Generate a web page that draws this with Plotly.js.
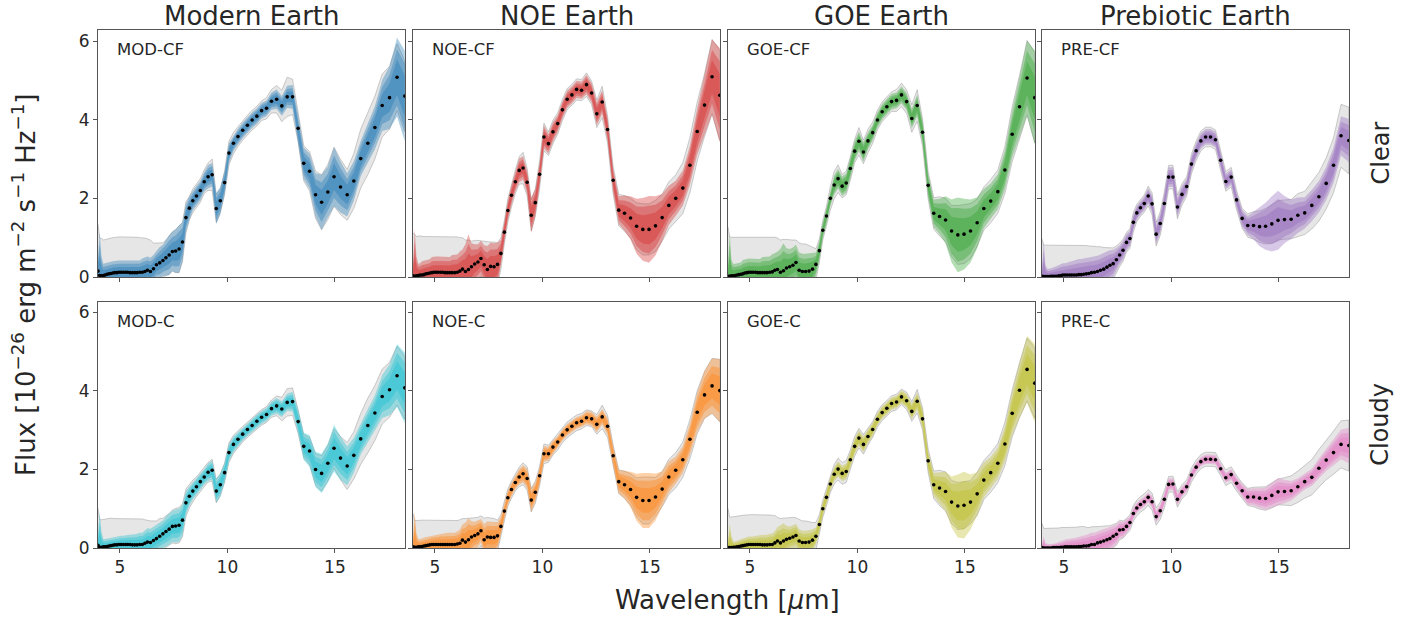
<!DOCTYPE html>
<html>
<head>
<meta charset="utf-8">
<script src="https://cdn.plot.ly/plotly-3.0.1.min.js"></script>
<style>html,body{margin:0;padding:0;background:#fff;}#chart{width:1414px;height:619px;}</style>
</head>
<body>
<div id="chart"></div>
<script>
// Wavelength grid [micron]
const lam = [3.98,4.06,4.14,4.23,4.31,4.40,4.49,4.58,4.67,4.76,4.86,4.95,5.05,5.15,5.26,5.36,5.47,5.58,5.69,5.80,5.92,6.04,6.16,
 6.28,6.42,6.56,6.70,6.85,7.00,7.14,7.29,7.44,7.59,7.75,7.91,8.07,8.23,8.39,8.56,8.74,8.92,9.10,9.29,9.48,9.67,9.87,
 10.07,10.28,10.49,10.71,10.93,11.15,11.37,11.59,11.82,12.05,12.29,12.53,12.78,13.03,13.29,13.55,13.82,14.10,14.38,14.67,14.96,15.26,15.57,15.88,16.20,16.53,16.86,17.20,17.54,17.89,18.25];

const columnTitles = ['Modern Earth','NOE Earth','GOE Earth','Prebiotic Earth'];
const rowTitles = ['Clear','Cloudy'];
const panelLabels = ['MOD-CF','NOE-CF','GOE-CF','PRE-CF','MOD-C','NOE-C','GOE-C','PRE-C'];
const panelColors = ['#1f77b4','#d62728','#2ca02c','#9467bd','#17becf','#ff7f0e','#bcbd22','#e377c2'];
const waveTicks = [5,10,15];
const fluxTicks = [0,2,4,6];
// relative widths of the three nested coloured bands (outer, middle, inner)
const bandLevels = [1.0, 0.72, 0.45];

// ---- MOD-CF ----
const modCF = [0.15,0.04,0.03,0.04,0.05,0.07,0.08,0.09,0.10,0.11,0.11,0.12,0.12,0.12,0.12,0.12,0.11,0.11,0.11,0.11,0.12,0.12,0.14,
 0.17,0.14,0.21,0.31,0.36,0.42,0.49,0.56,0.65,0.66,0.71,0.89,1.51,1.75,1.94,2.06,2.20,2.42,2.55,2.60,1.74,1.94,2.40,
 3.15,3.40,3.57,3.73,3.86,3.99,4.09,4.23,4.29,4.47,4.52,4.35,4.58,4.58,3.78,2.89,2.69,2.09,1.90,2.16,2.55,2.29,2.09,2.44,3.01,3.40,3.80,4.36,4.56,5.08,4.60];
const modCFSpread = [0.35,1.1,0.5,0.3,0.3,0.3,0.3,0.3,0.3,0.3,0.3,0.3,0.3,0.3,0.3,0.3,0.3,0.3,0.3,0.3,0.3,0.35,0.35,
 0.35,0.35,0.35,0.35,0.4,0.4,0.45,0.5,0.5,0.55,0.6,0.5,0.35,0.3,0.25,0.25,0.25,0.25,0.3,0.3,0.4,0.35,0.3,
 0.25,0.2,0.2,0.2,0.2,0.2,0.2,0.2,0.2,0.22,0.25,0.25,0.28,0.3,0.35,0.4,0.45,0.55,0.7,0.65,0.75,0.65,0.55,0.5,0.45,0.5,0.55,0.65,0.8,1.0,1.15];
const modCFGray = [1.2,0.95,0.95,0.9,0.9,0.9,0.9,0.9,0.9,0.9,0.9,0.9,0.9,0.9,0.9,0.9,0.9,0.9,0.9,0.9,0.88,0.88,0.85,
 0.8,0.8,0.65,0.55,0.5,0.45,0.45,0.5,0.5,0.55,0.6,0.5,0.4,0.3,0.3,0.3,0.3,0.3,0.35,0.4,0.35,0.3,0.3,
 0.3,0.27,0.25,0.25,0.25,0.25,0.25,0.25,0.27,0.3,0.35,0.4,0.5,0.45,0.35,0.45,0.5,0.6,0.7,0.7,0.75,0.7,0.65,0.7,0.75,0.8,0.8,0.8,0.8,0.85,0.9];

// ---- NOE-CF ----
const noeCF = [0.03,0.02,0.03,0.04,0.05,0.05,0.06,0.08,0.09,0.10,0.11,0.12,0.12,0.12,0.12,0.12,0.11,0.11,0.11,0.11,0.11,0.12,0.15,
 0.20,0.14,0.19,0.26,0.33,0.38,0.47,0.31,0.19,0.27,0.26,0.32,0.60,1.14,1.69,2.08,2.42,2.71,2.77,2.41,1.57,1.89,2.61,
 3.56,3.39,3.69,3.90,4.25,4.52,4.63,4.77,4.75,4.89,4.68,4.15,4.45,3.75,2.46,1.70,1.62,1.50,1.29,1.21,1.21,1.30,1.51,1.82,2.00,2.26,2.84,3.70,4.37,5.09,4.62];
const noeCFSpread = [0.3,1.2,0.5,0.3,0.3,0.35,0.35,0.35,0.35,0.35,0.4,0.4,0.4,0.4,0.4,0.4,0.4,0.4,0.4,0.45,0.45,0.45,0.5,
 0.5,0.7,0.9,0.6,0.5,0.45,0.45,0.5,0.6,0.6,0.6,0.55,0.35,0.25,0.25,0.25,0.25,0.3,0.3,0.3,0.45,0.35,0.3,
 0.3,0.25,0.25,0.22,0.22,0.22,0.22,0.22,0.22,0.25,0.25,0.3,0.3,0.3,0.3,0.35,0.45,0.55,0.7,0.8,0.85,0.75,0.6,0.5,0.45,0.45,0.5,0.6,0.75,0.95,1.2];
const noeCFGray = [1.1,1.05,1.0,1.0,1.0,0.98,0.97,0.95,0.94,0.93,0.92,0.91,0.91,0.91,0.91,0.91,0.92,0.92,0.92,0.92,0.92,0.9,0.85,
 0.8,0.8,0.75,0.65,0.6,0.55,0.45,0.6,0.7,0.62,0.63,0.55,0.4,0.3,0.3,0.3,0.3,0.35,0.4,0.35,0.4,0.35,0.35,
 0.35,0.3,0.3,0.27,0.27,0.27,0.27,0.27,0.27,0.3,0.3,0.35,0.4,0.35,0.35,0.4,0.45,0.5,0.6,0.65,0.65,0.65,0.6,0.6,0.6,0.65,0.7,0.75,0.8,0.95,1.15];

// ---- GOE-CF ----
const goeCF = [0.02,0.02,0.03,0.03,0.04,0.05,0.06,0.07,0.08,0.10,0.11,0.12,0.12,0.12,0.12,0.11,0.11,0.11,0.11,0.11,0.12,0.13,0.17,
 0.19,0.12,0.16,0.23,0.26,0.30,0.37,0.17,0.14,0.14,0.15,0.20,0.32,0.67,1.19,1.55,2.00,2.34,2.50,2.31,2.39,2.76,3.20,
 3.45,3.18,3.46,3.67,3.99,4.20,4.33,4.46,4.49,4.63,4.46,4.03,4.36,3.68,2.33,1.62,1.54,1.45,1.17,1.07,1.09,1.17,1.38,1.74,1.93,2.17,2.72,3.63,4.33,5.06,4.56];
const goeCFSpread = [0.3,1.1,0.4,0.3,0.3,0.3,0.3,0.3,0.35,0.35,0.35,0.35,0.35,0.35,0.35,0.35,0.35,0.4,0.4,0.4,0.4,0.45,0.45,
 0.45,0.6,0.7,0.5,0.45,0.45,0.45,0.45,0.45,0.45,0.45,0.4,0.3,0.25,0.2,0.2,0.2,0.25,0.25,0.25,0.25,0.25,0.25,
 0.25,0.25,0.22,0.2,0.2,0.2,0.2,0.2,0.2,0.22,0.22,0.25,0.28,0.3,0.3,0.35,0.45,0.6,0.8,0.95,0.9,0.8,0.65,0.5,0.45,0.45,0.5,0.6,0.75,0.95,1.2];
const goeCFGray = [1.25,1.0,0.98,0.97,0.97,0.96,0.95,0.94,0.93,0.92,0.91,0.9,0.9,0.9,0.9,0.91,0.91,0.91,0.91,0.91,0.9,0.88,0.84,
 0.8,0.82,0.8,0.72,0.68,0.64,0.57,0.7,0.7,0.7,0.65,0.55,0.4,0.3,0.25,0.25,0.3,0.35,0.35,0.3,0.3,0.3,0.3,
 0.35,0.3,0.3,0.27,0.25,0.25,0.25,0.25,0.28,0.3,0.3,0.35,0.4,0.35,0.35,0.4,0.5,0.55,0.65,0.75,0.75,0.7,0.6,0.55,0.55,0.55,0.6,0.7,0.8,0.95,1.15];

// ---- PRE-CF ----
const preCF = [0.02,0.01,0.01,0.01,0.01,0.02,0.02,0.02,0.02,0.03,0.04,0.05,0.05,0.05,0.05,0.05,0.05,0.05,0.06,0.06,0.07,0.08,0.09,
 0.11,0.12,0.14,0.17,0.20,0.25,0.30,0.34,0.44,0.56,0.68,0.88,0.98,1.39,1.63,1.76,1.87,2.06,1.86,1.09,1.36,1.87,2.54,
 2.54,1.78,2.10,2.30,2.87,3.21,3.46,3.56,3.56,3.49,2.97,2.43,2.54,1.96,1.49,1.31,1.31,1.28,1.29,1.35,1.44,1.46,1.47,1.57,1.63,1.82,2.04,2.38,2.84,3.59,3.47];
const preCFSpread = [0.2,0.9,0.3,0.2,0.2,0.2,0.22,0.24,0.26,0.28,0.3,0.3,0.3,0.32,0.34,0.36,0.38,0.4,0.4,0.4,0.4,0.4,0.4,
 0.4,0.4,0.4,0.4,0.4,0.4,0.38,0.35,0.3,0.25,0.25,0.22,0.2,0.2,0.18,0.18,0.18,0.2,0.22,0.25,0.25,0.25,0.25,
 0.25,0.25,0.22,0.2,0.2,0.2,0.2,0.2,0.2,0.2,0.2,0.2,0.2,0.2,0.22,0.25,0.35,0.5,0.6,0.7,0.75,0.6,0.5,0.45,0.4,0.4,0.4,0.42,0.45,0.5,0.55];
const preCFGray = [0.95,0.8,0.8,0.8,0.8,0.78,0.78,0.78,0.78,0.77,0.76,0.75,0.75,0.75,0.75,0.75,0.75,0.75,0.74,0.74,0.73,0.72,0.7,
 0.68,0.66,0.63,0.6,0.55,0.5,0.45,0.4,0.35,0.3,0.28,0.25,0.25,0.25,0.22,0.22,0.22,0.25,0.28,0.3,0.3,0.3,0.3,
 0.3,0.3,0.27,0.25,0.25,0.25,0.25,0.25,0.25,0.25,0.25,0.25,0.25,0.25,0.25,0.3,0.35,0.4,0.45,0.5,0.5,0.5,0.5,0.55,0.55,0.6,0.62,0.65,0.7,0.8,0.85];

// ---- MOD-C ----
const modC = [0.07,0.02,0.02,0.03,0.03,0.04,0.05,0.06,0.07,0.08,0.08,0.09,0.09,0.09,0.09,0.09,0.09,0.08,0.08,0.08,0.09,0.09,0.12,
 0.15,0.14,0.19,0.24,0.30,0.36,0.42,0.48,0.55,0.56,0.58,0.71,1.15,1.32,1.45,1.56,1.69,1.81,1.93,1.98,1.45,1.61,1.92,
 2.43,2.64,2.77,2.90,3.02,3.12,3.23,3.33,3.40,3.55,3.62,3.54,3.71,3.73,3.22,2.59,2.47,2.00,1.90,2.16,2.54,2.29,2.09,2.36,2.78,3.12,3.44,3.86,4.03,4.39,4.08];
const modCSpread = [0.3,0.9,0.4,0.2,0.2,0.2,0.2,0.2,0.2,0.2,0.22,0.22,0.22,0.22,0.24,0.24,0.25,0.26,0.27,0.28,0.3,0.3,0.32,
 0.35,0.35,0.35,0.35,0.35,0.35,0.38,0.4,0.4,0.42,0.42,0.4,0.3,0.25,0.22,0.2,0.2,0.2,0.22,0.25,0.3,0.3,0.25,
 0.22,0.2,0.18,0.17,0.17,0.17,0.17,0.17,0.17,0.18,0.2,0.2,0.22,0.25,0.3,0.35,0.4,0.45,0.5,0.5,0.6,0.55,0.5,0.45,0.4,0.42,0.45,0.55,0.65,0.8,0.9];
const modCGray = [0.95,0.7,0.7,0.7,0.7,0.7,0.7,0.7,0.68,0.67,0.67,0.66,0.66,0.66,0.66,0.66,0.66,0.66,0.66,0.66,0.65,0.65,0.6,
 0.55,0.55,0.5,0.45,0.45,0.4,0.4,0.4,0.42,0.45,0.45,0.42,0.35,0.3,0.28,0.25,0.25,0.25,0.25,0.28,0.3,0.28,0.25,
 0.25,0.23,0.22,0.2,0.2,0.2,0.2,0.2,0.2,0.22,0.25,0.3,0.35,0.35,0.3,0.3,0.35,0.4,0.45,0.45,0.5,0.55,0.6,0.6,0.65,0.7,0.7,0.7,0.7,0.75,0.8];

// ---- NOE-C ----
const noeC = [0.03,0.02,0.02,0.03,0.03,0.04,0.05,0.06,0.07,0.08,0.09,0.09,0.09,0.09,0.09,0.09,0.09,0.09,0.09,0.09,0.09,0.10,0.12,
 0.20,0.15,0.21,0.28,0.32,0.36,0.44,0.21,0.28,0.27,0.27,0.31,0.55,0.94,1.28,1.49,1.67,1.81,1.89,1.77,1.22,1.42,1.84,
 2.40,2.40,2.57,2.70,2.88,3.01,3.10,3.19,3.23,3.32,3.29,3.15,3.34,3.10,2.35,1.69,1.61,1.49,1.29,1.21,1.21,1.30,1.50,1.81,1.98,2.25,2.77,3.46,3.90,4.13,4.01];
const noeCSpread = [0.2,0.9,0.35,0.2,0.2,0.2,0.22,0.22,0.22,0.22,0.24,0.24,0.26,0.26,0.28,0.28,0.3,0.3,0.3,0.3,0.3,0.32,0.35,
 0.4,0.5,0.55,0.4,0.35,0.35,0.3,0.4,0.4,0.4,0.4,0.35,0.25,0.2,0.18,0.18,0.18,0.2,0.22,0.25,0.3,0.25,0.22,
 0.2,0.18,0.17,0.15,0.15,0.15,0.15,0.15,0.15,0.17,0.18,0.2,0.2,0.22,0.25,0.3,0.35,0.45,0.6,0.7,0.7,0.6,0.45,0.4,0.35,0.35,0.4,0.5,0.6,0.7,0.8];
const noeCGray = [0.85,0.68,0.68,0.68,0.67,0.67,0.66,0.65,0.64,0.63,0.62,0.62,0.62,0.62,0.62,0.62,0.62,0.62,0.62,0.62,0.62,0.6,0.6,
 0.55,0.6,0.55,0.48,0.45,0.42,0.38,0.55,0.5,0.5,0.48,0.4,0.3,0.25,0.22,0.22,0.22,0.25,0.28,0.3,0.3,0.28,0.25,
 0.25,0.22,0.2,0.2,0.2,0.2,0.2,0.2,0.2,0.2,0.2,0.25,0.3,0.28,0.28,0.3,0.35,0.4,0.5,0.6,0.6,0.5,0.45,0.45,0.45,0.45,0.5,0.55,0.6,0.7,0.8];

// ---- GOE-C ----
const goeC = [0.01,0.01,0.01,0.02,0.02,0.03,0.04,0.05,0.06,0.07,0.08,0.09,0.09,0.09,0.09,0.09,0.09,0.08,0.08,0.08,0.09,0.09,0.13,
 0.18,0.13,0.18,0.22,0.25,0.28,0.32,0.18,0.14,0.14,0.15,0.20,0.30,0.60,1.00,1.29,1.63,1.88,2.01,1.90,1.95,2.25,2.59,
 2.80,2.64,2.84,3.02,3.28,3.45,3.56,3.68,3.72,3.85,3.75,3.48,3.74,3.29,2.22,1.61,1.53,1.44,1.17,1.07,1.09,1.17,1.38,1.73,1.92,2.16,2.65,3.43,4.02,4.55,4.20];
const goeCSpread = [0.2,0.6,0.3,0.15,0.15,0.15,0.16,0.17,0.18,0.19,0.2,0.2,0.2,0.2,0.22,0.22,0.24,0.25,0.25,0.26,0.27,0.28,0.3,
 0.35,0.45,0.45,0.35,0.3,0.3,0.3,0.3,0.3,0.3,0.3,0.28,0.22,0.2,0.18,0.17,0.17,0.18,0.2,0.2,0.2,0.2,0.2,
 0.2,0.2,0.18,0.17,0.16,0.16,0.16,0.16,0.16,0.17,0.18,0.2,0.22,0.25,0.25,0.3,0.4,0.5,0.65,0.8,0.85,0.7,0.55,0.45,0.4,0.4,0.45,0.55,0.7,0.85,1.0];
const goeCGray = [1.0,0.78,0.78,0.78,0.78,0.78,0.78,0.78,0.77,0.77,0.76,0.76,0.76,0.76,0.76,0.76,0.76,0.76,0.76,0.76,0.75,0.74,0.7,
 0.6,0.62,0.58,0.55,0.52,0.5,0.45,0.55,0.55,0.55,0.52,0.45,0.35,0.25,0.22,0.22,0.22,0.25,0.28,0.28,0.28,0.25,0.25,
 0.25,0.25,0.22,0.2,0.2,0.2,0.2,0.2,0.2,0.2,0.22,0.25,0.3,0.28,0.3,0.35,0.45,0.5,0.55,0.6,0.6,0.55,0.55,0.5,0.5,0.5,0.55,0.6,0.7,0.8,0.9];

// ---- PRE-C ----
const preC = [0.01,0.00,0.00,0.00,0.00,0.00,0.01,0.01,0.01,0.01,0.02,0.02,0.03,0.03,0.03,0.03,0.03,0.03,0.04,0.04,0.05,0.05,0.06,
 0.09,0.09,0.13,0.15,0.18,0.21,0.24,0.30,0.35,0.46,0.47,0.55,0.65,0.88,1.02,1.11,1.18,1.29,1.18,0.80,0.95,1.24,1.62,
 1.63,1.24,1.43,1.56,1.86,2.06,2.20,2.26,2.26,2.25,2.02,1.79,1.87,1.65,1.46,1.30,1.30,1.27,1.26,1.34,1.43,1.44,1.46,1.56,1.69,1.80,2.03,2.24,2.43,2.64,2.61];
const preCSpread = [0.1,0.3,0.12,0.1,0.1,0.1,0.1,0.1,0.12,0.14,0.15,0.16,0.18,0.2,0.2,0.22,0.22,0.24,0.25,0.26,0.27,0.28,0.3,
 0.3,0.3,0.3,0.3,0.3,0.3,0.3,0.28,0.25,0.22,0.2,0.18,0.15,0.15,0.13,0.13,0.13,0.13,0.15,0.15,0.15,0.15,0.15,
 0.15,0.15,0.13,0.12,0.12,0.12,0.12,0.12,0.12,0.12,0.13,0.13,0.14,0.15,0.17,0.2,0.22,0.25,0.28,0.32,0.35,0.3,0.25,0.22,0.2,0.22,0.25,0.28,0.32,0.38,0.45];
const preCGray = [0.62,0.5,0.5,0.5,0.5,0.5,0.5,0.5,0.5,0.5,0.5,0.5,0.5,0.5,0.5,0.5,0.5,0.5,0.5,0.5,0.5,0.48,0.46,
 0.45,0.45,0.42,0.4,0.38,0.35,0.33,0.3,0.28,0.25,0.22,0.2,0.2,0.2,0.2,0.2,0.2,0.2,0.22,0.22,0.22,0.22,0.2,
 0.2,0.2,0.18,0.18,0.18,0.18,0.18,0.18,0.18,0.18,0.18,0.2,0.2,0.2,0.2,0.22,0.25,0.28,0.3,0.32,0.33,0.35,0.38,0.4,0.42,0.45,0.48,0.5,0.55,0.6,0.65];

const panelFlux = [modCF, noeCF, goeCF, preCF, modC, noeC, goeC, preC];
const panelSpread = [modCFSpread, noeCFSpread, goeCFSpread, preCFSpread, modCSpread, noeCSpread, goeCSpread, preCSpread];
const panelGray = [modCFGray, noeCFGray, goeCFGray, preCFGray, modCGray, noeCGray, goeCGray, preCGray];

// ---- layout geometry ----
const W = 1414, H = 619;
const colPx = [[98,405],[413,720],[728,1035],[1042,1349]];
const rowPx = [[30,277],[301.5,548]];
const FONT = 'DejaVu Sans, Liberation Sans, sans-serif';
const TXT = '#262626';
const AX = '#555555';

function rgba(hex, a){
  const n = parseInt(hex.slice(1),16);
  return 'rgba(' + ((n>>16)&255) + ',' + ((n>>8)&255) + ',' + (n&255) + ',' + a + ')';
}
function bandPolygon(flux, width, k){
  const up = flux.map((f,i)=>f + k*width[i]);
  const lo = flux.map((f,i)=>f - k*width[i]);
  return {x: lam.concat(lam.slice().reverse()), y: up.concat(lo.slice().reverse())};
}

const traces = [];
const layout = {
  width: W, height: H,
  margin: {l:0, r:0, t:0, b:0},
  paper_bgcolor: '#ffffff', plot_bgcolor: '#ffffff',
  showlegend: false,
  font: {family: FONT, color: TXT},
  annotations: []
};

for (let p = 0; p < 8; p++){
  const row = Math.floor(p/4), col = p % 4;
  const id = p === 0 ? '' : String(p+1);
  const xa = 'x' + id, ya = 'y' + id;
  const flux = panelFlux[p], sp = panelSpread[p], gs = panelGray[p];
  const c = panelColors[p];

  const g = bandPolygon(flux, gs, 1.0);
  traces.push({x: g.x, y: g.y, xaxis: xa, yaxis: ya, type: 'scatter', mode: 'lines',
    fill: 'toself', fillcolor: 'rgba(128,128,128,0.2)', line: {color: 'rgba(120,120,120,0.45)', width: 0.8}, hoverinfo: 'skip'});
  bandLevels.forEach(k => {
    const b = bandPolygon(flux, sp, k);
    traces.push({x: b.x, y: b.y, xaxis: xa, yaxis: ya, type: 'scatter', mode: 'lines',
      fill: 'toself', fillcolor: rgba(c, 0.36), line: {width: 0, color: rgba(c,0)}, hoverinfo: 'skip'});
  });
  traces.push({x: lam, y: flux, xaxis: xa, yaxis: ya, type: 'scatter', mode: 'markers',
    marker: {color: '#000000', size: 3.6}, hoverinfo: 'skip'});

  const xd = [colPx[col][0]/W, colPx[col][1]/W];
  const yd = [1 - rowPx[row][1]/H, 1 - rowPx[row][0]/H];
  const common = {showline: true, mirror: true, linecolor: AX, linewidth: 1, ticks: 'outside', ticklen: 4,
    tickwidth: 1, tickcolor: AX, showgrid: false, zeroline: false, fixedrange: true,
    tickfont: {family: FONT, size: 17, color: TXT}};
  layout['xaxis' + id] = Object.assign({}, common, {domain: xd, anchor: ya, range: [3.98, 18.26],
    tickmode: 'array', tickvals: waveTicks, ticktext: waveTicks.map(String), showticklabels: row === 1});
  layout['yaxis' + id] = Object.assign({}, common, {domain: yd, anchor: xa, range: [0, 6.28],
    tickmode: 'array', tickvals: fluxTicks, ticktext: fluxTicks.map(String), showticklabels: col === 0});

  layout.annotations.push({text: panelLabels[p], xref: xa + ' domain', yref: ya + ' domain',
    x: 0.055, y: 0.92, xanchor: 'left', yanchor: 'middle', showarrow: false,
    font: {family: FONT, size: 16.5, color: TXT}});
}

columnTitles.forEach((t, col) => {
  layout.annotations.push({text: t, xref: 'paper', yref: 'paper',
    x: (colPx[col][0] + colPx[col][1]) / 2 / W, y: 1 - 16/H, xanchor: 'center', yanchor: 'middle',
    showarrow: false, font: {family: FONT, size: 26, color: TXT}});
});
rowTitles.forEach((t, row) => {
  layout.annotations.push({text: t, xref: 'paper', yref: 'paper', textangle: -90,
    x: 1380/W, y: 1 - ((rowPx[row][0] + rowPx[row][1]) / 2)/H, xanchor: 'center', yanchor: 'middle',
    showarrow: false, font: {family: FONT, size: 24, color: TXT}});
});
layout.annotations.push({text: 'Flux [10<sup>\u221226</sup> erg m<sup>\u22122</sup> s<sup>\u22121</sup> Hz<sup>\u22121</sup>]',
  xref: 'paper', yref: 'paper', textangle: -90, x: 24/W, y: 1 - 285/H, xanchor: 'center', yanchor: 'middle',
  showarrow: false, font: {family: FONT, size: 26, color: TXT}});
layout.annotations.push({text: 'Wavelength [<i>\u03bc</i>m]', xref: 'paper', yref: 'paper',
  x: 727/W, y: 1 - 600/H, xanchor: 'center', yanchor: 'middle',
  showarrow: false, font: {family: FONT, size: 26, color: TXT}});

Plotly.newPlot('chart', traces, layout, {staticPlot: true, displayModeBar: false});
</script>
</body>
</html>
